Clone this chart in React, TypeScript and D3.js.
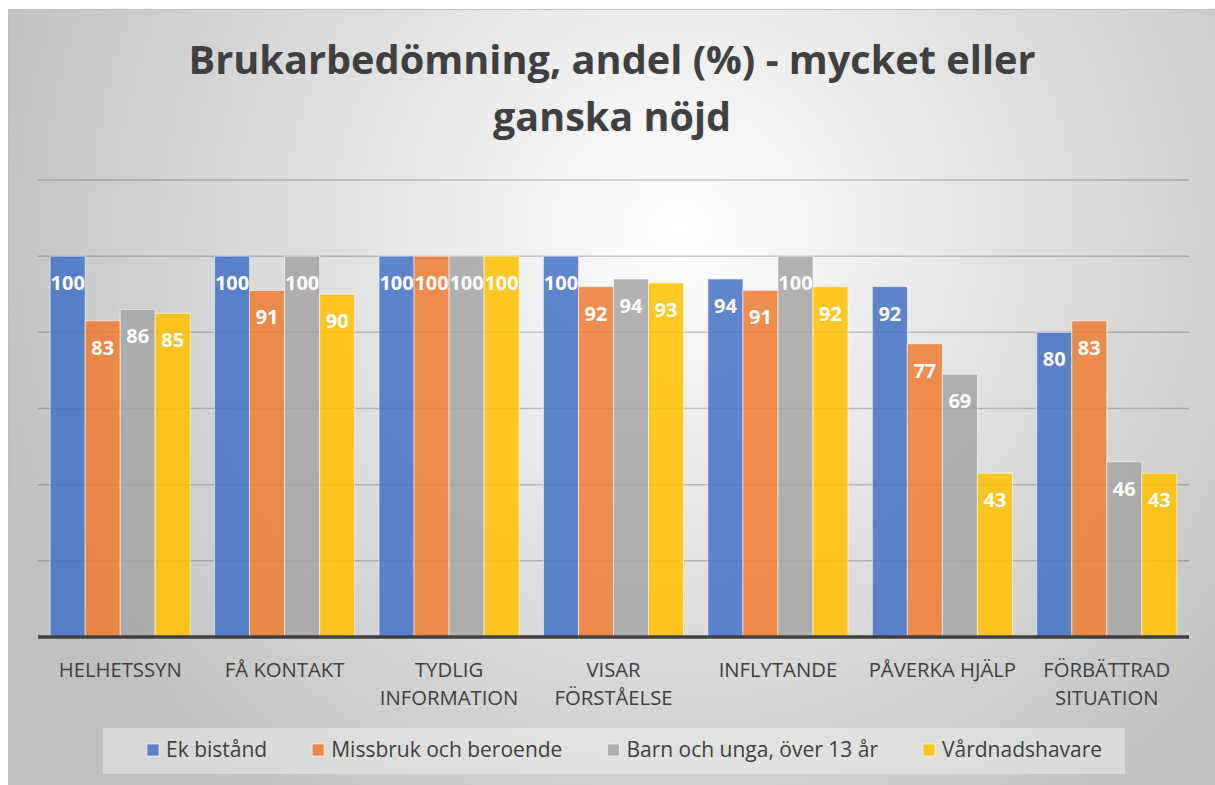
import React, { useEffect, useRef } from "react";
import * as d3 from "d3";

const categories: string[][] = [
  ["HELHETSSYN"],
  ["FÅ KONTAKT"],
  ["TYDLIG", "INFORMATION"],
  ["VISAR", "FÖRSTÅELSE"],
  ["INFLYTANDE"],
  ["PÅVERKA HJÄLP"],
  ["FÖRBÄTTRAD", "SITUATION"],
];
const seriesNames = ["Ek bistånd", "Missbruk och beroende", "Barn och unga, över 13 år", "Vårdnadshavare"];
const ekBistand = [100, 100, 100, 100, 94, 92, 80];
const missbruk = [83, 91, 100, 92, 91, 77, 83];
const barnUnga = [86, 100, 100, 94, 100, 69, 46];
const vardnad = [85, 90, 100, 93, 92, 43, 43];
const yTicks = [0, 20, 40, 60, 80, 100, 120];
const colors = ["#4472C4", "#ED7D31", "#A5A5A5", "#FFC000"];
const titleLines = ["Brukarbedömning, andel (%) - mycket eller", "ganska nöjd"];

const W = 1215;
const H = 785;

export default function App() {
  const ref = useRef<SVGSVGElement>(null);
  useEffect(() => {
    document.body.style.margin = "0";
    const svg = d3.select(ref.current);
    svg.selectAll("*").remove();
    const font = "'Open Sans', sans-serif";
    const textCol = "#404040";

    const defs = svg.append("defs");
    const rg = defs
      .append("radialGradient")
      .attr("id", "bg")
      .attr("gradientUnits", "userSpaceOnUse")
      .attr("cx", 680)
      .attr("cy", 230)
      .attr("r", 720);
    rg.append("stop").attr("offset", 0).attr("stop-color", "#ffffff");
    rg.append("stop").attr("offset", 1).attr("stop-color", "#c0c0c0");

    svg.append("rect").attr("x", 0).attr("y", 0).attr("width", W).attr("height", H).attr("fill", "#ffffff");
    svg
      .append("rect")
      .attr("x", 8.5)
      .attr("y", 9.5)
      .attr("width", W)
      .attr("height", H)
      .attr("fill", "url(#bg)")
      .attr("stroke", "#bdbdbd")
      .attr("stroke-width", 1);

    // title
    titleLines.forEach((t, i) => {
      const el = svg
        .append("text")
        .attr("x", 612)
        .attr("y", 74 + i * 57)
        .attr("text-anchor", "middle")
        .attr("font-family", font)
        .attr("font-weight", 700)
        .attr("font-size", 40)
        .attr("fill", textCol)
        .text(t);
      const len = (el.node() as SVGTextElement).getComputedTextLength();
      const target = i === 0 ? 847 : 238;
      if (len > target) el.attr("textLength", target).attr("lengthAdjust", "spacingAndGlyphs");
    });

    const left = 38;
    const right = 1189;
    const y = d3.scaleLinear().domain([0, 120]).range([637, 180]);
    const x0 = d3
      .scaleBand<number>()
      .domain(d3.range(categories.length))
      .range([left, right])
      .paddingInner(0.148)
      .paddingOuter(0.074);
    const x1 = d3.scaleBand<number>().domain([0, 1, 2, 3]).range([0, x0.bandwidth()]).padding(0);

    // gridlines
    svg
      .append("g")
      .selectAll("line")
      .data(yTicks.filter((d) => d > 0))
      .join("line")
      .attr("x1", left)
      .attr("x2", right)
      .attr("y1", (d) => y(d))
      .attr("y2", (d) => y(d))
      .attr("stroke", "rgba(0,0,0,0.2)")
      .attr("stroke-width", 1.5);

    const series = [ekBistand, missbruk, barnUnga, vardnad];
    const g = svg.append("g");
    series.forEach((vals, si) => {
      g.append("g")
        .selectAll("rect")
        .data(vals)
        .join("rect")
        .attr("x", (_, i) => (x0(i) as number) + (x1(si) as number))
        .attr("y", (d) => y(d))
        .attr("width", x1.bandwidth())
        .attr("height", (d) => y(0) - y(d))
        .attr("fill", colors[si])
        .attr("fill-opacity", 0.85)
        .attr("stroke", "rgba(255,255,255,0.55)")
        .attr("stroke-width", 1);
      g.append("g")
        .selectAll("text")
        .data(vals)
        .join("text")
        .attr("x", (_, i) => (x0(i) as number) + (x1(si) as number) + x1.bandwidth() / 2)
        .attr("y", (d) => y(d) + 34)
        .attr("text-anchor", "middle")
        .attr("font-family", font)
        .attr("font-weight", 700)
        .attr("font-size", 20)
        .attr("fill", "#ffffff")
        .text((d) => String(d));
    });

    // baseline
    svg
      .append("line")
      .attr("x1", left)
      .attr("x2", right)
      .attr("y1", y(0))
      .attr("y2", y(0))
      .attr("stroke", "#404040")
      .attr("stroke-width", 3.5);

    // category labels
    categories.forEach((lines, i) => {
      const cx = (x0(i) as number) + x0.bandwidth() / 2;
      lines.forEach((ln, j) => {
        svg
          .append("text")
          .attr("x", cx)
          .attr("y", 677 + j * 28)
          .attr("text-anchor", "middle")
          .attr("font-family", font)
          .attr("font-size", 20.3)
          .attr("fill", textCol)
          .text(ln);
      });
    });

    // legend
    svg
      .append("rect")
      .attr("x", 103)
      .attr("y", 728)
      .attr("width", 1022)
      .attr("height", 46)
      .attr("fill", "rgba(245,245,245,0.45)");
    const lg = svg.append("g");
    let cx = 147;
    seriesNames.forEach((name, i) => {
      lg.append("rect")
        .attr("x", cx)
        .attr("y", 744)
        .attr("width", 12)
        .attr("height", 12)
        .attr("fill", colors[i])
        .attr("fill-opacity", 0.85)
        .attr("stroke", "rgba(255,255,255,0.6)");
      const t = lg
        .append("text")
        .attr("x", cx + 19)
        .attr("y", 757)
        .attr("font-family", font)
        .attr("font-size", 21)
        .attr("fill", textCol)
        .text(name);
      const len = (t.node() as SVGTextElement).getComputedTextLength();
      cx = cx + 19 + len + 45;
    });
  }, []);
  return <svg ref={ref} width={W} height={H} style={{ display: "block" }} />;
}
